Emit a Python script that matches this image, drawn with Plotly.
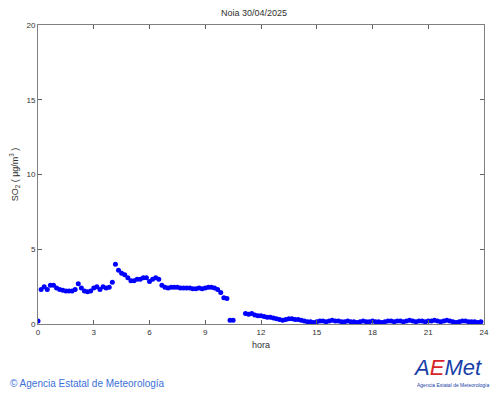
import plotly.graph_objects as go

# 10-minute SO2 values (µg/m3), None = missing
hours_start = 0.0
values = [
    0.2, 2.3, 2.5, 2.3, 2.6, 2.6,      # 0h
    2.4, 2.3, 2.25, 2.2, 2.2, 2.2,     # 1h
    2.3, 2.7, 2.4, 2.2, 2.15, 2.2,     # 2h
    2.4, 2.5, 2.3, 2.5, 2.4, 2.45,     # 3h
    2.8, 4.0, 3.6, 3.4, 3.3, 3.1,      # 4h
    2.9, 2.9, 3.0, 3.0, 3.1, 3.1,      # 5h
    2.85, 3.0, 3.1, 3.0, 2.6, 2.45,    # 6h
    2.4, 2.45, 2.45, 2.45, 2.4, 2.4,   # 7h
    2.4, 2.4, 2.35, 2.35, 2.4, 2.35,   # 8h
    2.4, 2.45, 2.45, 2.4, 2.3, 2.1,    # 9h
    1.75, 1.7, 0.25, 0.25, None, None, # 10h
    None, 0.7, 0.65, 0.7, 0.6, 0.55,   # 11h
    0.55, 0.5, 0.45, 0.45, 0.4, 0.35,  # 12h
    0.3, 0.25, 0.3, 0.35, 0.35, 0.3,   # 13h
    0.3, 0.25, 0.2, 0.15, 0.15, 0.1,   # 14h
    0.15, 0.2, 0.2, 0.15, 0.2, 0.25,   # 15h
    0.2, 0.2, 0.15, 0.15, 0.2, 0.15,   # 16h
    0.15, 0.1, 0.15, 0.2, 0.15, 0.15,  # 17h
    0.2, 0.15, 0.15, 0.1, 0.15, 0.2,   # 18h
    0.2, 0.15, 0.2, 0.2, 0.15, 0.2,    # 19h
    0.25, 0.2, 0.15, 0.2, 0.2, 0.15,   # 20h
    0.2, 0.2, 0.25, 0.2, 0.15, 0.2,    # 21h
    0.25, 0.2, 0.15, 0.1, 0.15, 0.2,   # 22h
    0.2, 0.15, 0.15, 0.15, 0.1, 0.15,  # 23h
]
hours = [hours_start + i / 6 for i in range(len(values))]

x_ticks = [0, 3, 6, 9, 12, 15, 18, 21, 24]
y_ticks = [0, 5, 10, 15, 20]
title_text = "Noia 30/04/2025"
x_title = "hora"
y_title = "SO<sub>2</sub> ( µg/m<sup>3</sup> )"

fnt = "Liberation Sans, Arial, sans-serif"

fig = go.Figure()
fig.add_trace(go.Scatter(
    x=hours, y=values, mode="markers",
    marker=dict(color="#0000ff", size=5, line=dict(width=0)),
    hoverinfo="x+y", showlegend=False,
))

axis_common = dict(
    showgrid=False, zeroline=False, showline=True, linecolor="#808080",
    linewidth=1, mirror="ticks", ticks="inside", ticklen=4, tickcolor="#606060",
    tickfont=dict(family=fnt, size=8, color="#303030"), automargin=False,
)
fig.update_layout(
    width=492, height=387,
    margin=dict(l=30, r=16, t=17, b=71),
    paper_bgcolor="white", plot_bgcolor="white",
    title=dict(text=title_text, x=0.5, xanchor="center", y=0.995, yanchor="top",
               font=dict(family=fnt, size=9, color="#303030")),
    xaxis=dict(range=[0, 24], tickvals=x_ticks, title=dict(text=x_title, standoff=6,
               font=dict(family=fnt, size=9, color="#303030")), **axis_common),
    yaxis=dict(range=[0, 20], tickvals=y_ticks, title=dict(text=y_title, standoff=14,
               font=dict(family=fnt, size=9, color="#303030")), **axis_common),
    annotations=[
        dict(text="© Agencia Estatal de Meteorología", xref="paper", yref="paper",
             x=-0.067, y=-0.2, xanchor="left", yanchor="middle", showarrow=False,
             font=dict(family=fnt, size=10, color="#3a6fd8")),
        dict(text="<i><span style='color:#1a3fa8'>A</span><span style='color:#d8232a'>E</span><span style='color:#1a3fa8'>Met</span></i>",
             xref="paper", yref="paper", x=1.0, y=-0.145, xanchor="right", yanchor="middle",
             showarrow=False, font=dict(family=fnt, size=22, color="#1a3fa8")),
        dict(text="Agencia Estatal de Meteorología", xref="paper", yref="paper",
             x=1.015, y=-0.205, xanchor="right", yanchor="middle", showarrow=False,
             font=dict(family=fnt, size=5, color="#1a3fa8")),
    ],
)

fig.write_html("out.html")
